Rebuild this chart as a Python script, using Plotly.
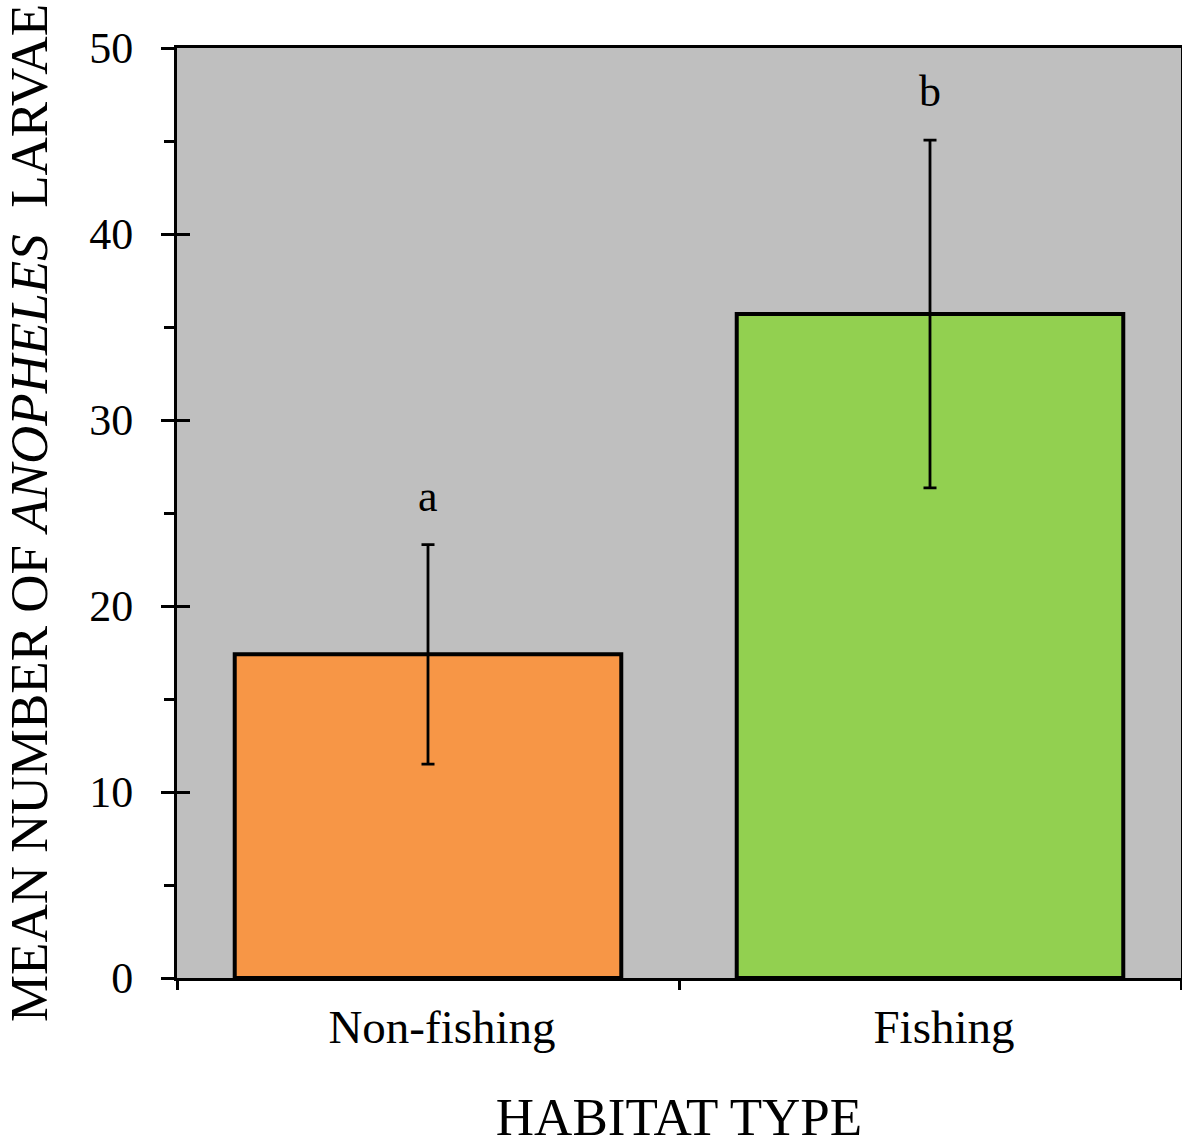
import plotly.graph_objects as go

categories = ["Non-fishing", "Fishing"]
means = [17.4, 35.7]
errors = [5.9, 9.35]
letters = ["a", "b"]
colors = ["#F79646", "#92D050"]
y_ticks = [0, 10, 20, 30, 40, 50]

FONT = "Liberation Serif, Times New Roman, serif"

fig = go.Figure()
fig.add_trace(go.Bar(
    x=categories, y=means, width=0.77,
    marker=dict(color=colors, line=dict(color="black", width=4)),
    error_y=dict(type="data", array=errors, visible=True, color="black", thickness=2.8, width=6.5),
    showlegend=False,
))

for c, m, e, l in zip(categories, means, errors, letters):
    fig.add_annotation(x=c, y=m + e + 2.6, text=l, showarrow=False,
                       font=dict(family=FONT, size=44, color="black"),
                       yanchor="middle")

fig.update_layout(
    width=1182, height=1146,
    margin=dict(l=177, r=1, t=48, b=168),
    paper_bgcolor="white", plot_bgcolor="#BFBFBF",
    font=dict(family=FONT, color="black"),
)
fig.update_xaxes(
    type="category", range=[-0.5, 1.5], tickson="boundaries",
    ticks="outside", ticklen=9, tickwidth=2.5, tickcolor="black",
    showline=True, linecolor="black", linewidth=3, mirror=True,
    tickfont=dict(family=FONT, size=47), ticklabelstandoff=6, ticklabelshift=14,
    title=dict(text="HABITAT TYPE", font=dict(family=FONT, size=53), standoff=62),
    showgrid=False, automargin=False,
)
fig.update_yaxes(
    range=[0, 50], tickvals=y_ticks,
    ticks="outside", ticklen=13, tickwidth=2.5, tickcolor="black",
    minor=dict(dtick=5, ticks="outside", ticklen=10, tickwidth=2.5, tickcolor="black"),
    showline=True, linecolor="black", linewidth=3, mirror=True,
    tickfont=dict(family=FONT, size=44), ticklabelstandoff=19,
    title=dict(text="MEAN NUMBER OF <i>ANOPHELES</i>  LARVAE", font=dict(family=FONT, size=53), standoff=25),
    showgrid=False, zeroline=False, automargin=False,
)
fig.update_layout(yaxis2=dict(
    overlaying="y", matches="y", range=[0, 50], tickvals=y_ticks, side="left",
    ticks="inside", ticklen=13, tickwidth=2.5, tickcolor="black",
    showticklabels=False, showgrid=False, zeroline=False, showline=False,
))
fig.add_trace(go.Scatter(x=categories, y=[None, None], yaxis="y2", showlegend=False, hoverinfo="skip"))

fig.write_html("out.html", config={"displayModeBar": False},
               post_script="document.body.style.margin='0';document.body.style.overflow='hidden';")
